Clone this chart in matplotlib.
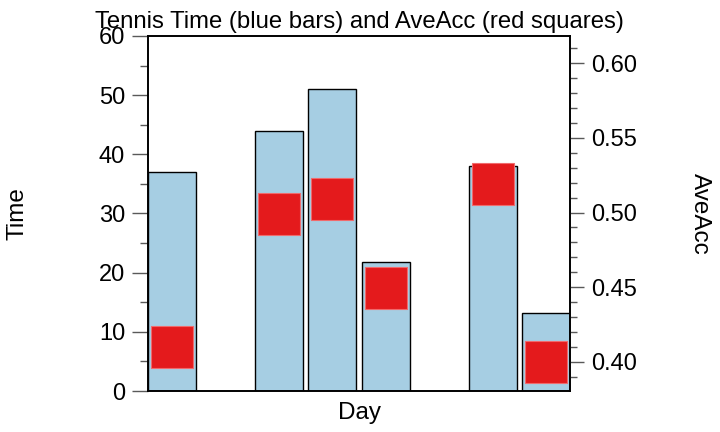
import matplotlib

matplotlib.use("Agg")
import matplotlib.pyplot as plt
from matplotlib.ticker import FormatStrFormatter, MultipleLocator

plt.rcParams["font.family"] = ["Liberation Sans", "DejaVu Sans"]

days = [1, 3, 4, 5, 7, 8]
tennis_time = [37, 44, 51, 21.8, 38, 13.2]
ave_acc = [0.410, 0.499, 0.509, 0.4495, 0.519, 0.400]


def main() -> int:
    fig = plt.figure(figsize=(7.2, 4.32), dpi=100)
    ax = fig.add_axes([0.2056, 0.0949, 0.5861, 0.8218])

    ax.bar(days, tennis_time, width=0.9, color="#a6cee3",
           edgecolor="black", linewidth=1.0, zorder=2)
    ax.set_xlim(0.55, 8.45)
    ax.set_ylim(0, 60)
    ax.set_xticks([])
    ax.yaxis.set_major_locator(MultipleLocator(10))
    ax.yaxis.set_minor_locator(MultipleLocator(5))
    ax.tick_params(axis="y", which="major", length=11.5, width=1, color="0.35",
                   labelsize=17, pad=5)
    ax.tick_params(axis="y", which="minor", length=6, width=1, color="0.35")
    ax.set_ylabel("Time", fontsize=17.5)
    ax.yaxis.set_label_coords(-0.2844, 0.5)
    ax.set_xlabel("Day", fontsize=17.5, labelpad=8)
    ax.set_title("Tennis Time (blue bars) and AveAcc (red squares)",
                 fontsize=17.2, pad=5.5)

    ax2 = ax.twinx()
    ax2.plot(days, ave_acc, linestyle="none", marker="s", markersize=30.5,
             color="#e41a1c", markeredgecolor="#f06a6c", markeredgewidth=0.8,
             zorder=3)
    ax2.set_ylim(0.3804, 0.6183)
    ax2.yaxis.set_major_locator(MultipleLocator(0.05))
    ax2.yaxis.set_minor_locator(MultipleLocator(0.01))
    ax2.yaxis.set_major_formatter(FormatStrFormatter("%.2f"))
    ax2.tick_params(axis="y", which="major", length=10, width=1, color="0.35",
                    labelsize=17, pad=5)
    ax2.tick_params(axis="y", which="minor", length=5, width=1, color="0.35")
    ax2.set_ylabel("AveAcc", fontsize=17.5, rotation=-90, labelpad=53)

    for a in (ax, ax2):
        for spine in a.spines.values():
            spine.set_linewidth(1.2)

    fig.savefig("out.png", dpi=100)
    return 0


if __name__ == "__main__":
    raise SystemExit(main())
